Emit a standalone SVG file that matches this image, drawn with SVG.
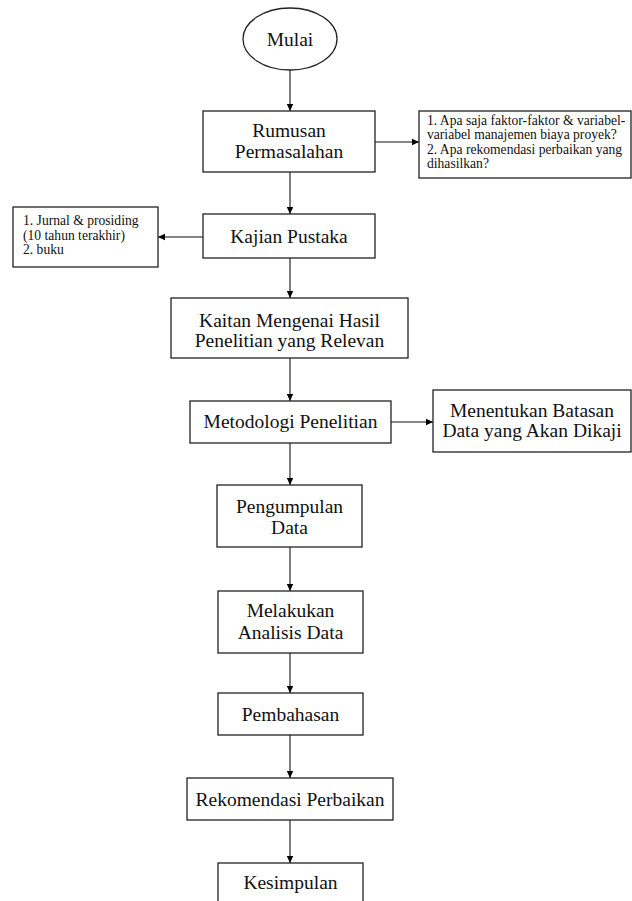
<svg xmlns="http://www.w3.org/2000/svg" width="632" height="901" viewBox="0 0 632 901">
<defs>
<marker id="ah" markerWidth="8" markerHeight="8" refX="7" refY="4" orient="auto" markerUnits="userSpaceOnUse">
<path d="M0,0.8 L7,4 L0,7.2 Z" fill="#000"/>
</marker>
<style>
.box{fill:#fff;stroke:#222;stroke-width:1.3}
.t{font-size:19.5px;fill:#111;text-anchor:middle}
.s{font-size:13.6px;fill:#111}
.c{fill:none;stroke:#111;stroke-width:1.1;marker-end:url(#ah)}
</style>
</defs>
<rect width="632" height="901" fill="#fff"/>
<g id="connectors">
<line class="c" x1="290" y1="70" x2="290" y2="111"/>
<line class="c" x1="290" y1="172" x2="290" y2="214"/>
<line class="c" x1="290" y1="258" x2="290" y2="298"/>
<line class="c" x1="290" y1="358" x2="290" y2="401"/>
<line class="c" x1="290" y1="443" x2="290" y2="485"/>
<line class="c" x1="290" y1="547" x2="290" y2="591"/>
<line class="c" x1="290" y1="653" x2="290" y2="693"/>
<line class="c" x1="290" y1="735" x2="290" y2="778"/>
<line class="c" x1="290" y1="820" x2="290" y2="863"/>
<line class="c" x1="375" y1="142" x2="419" y2="142"/>
<line class="c" x1="203" y1="237" x2="158" y2="237"/>
<line class="c" x1="391" y1="422" x2="433" y2="422"/>
</g>
<g font-family="Liberation Serif, DejaVu Serif, serif">
<g id="mulai">
<ellipse class="box" cx="290" cy="39" rx="47" ry="31"/>
<text class="t" x="290" y="45.5">Mulai</text>
</g>
<g id="rumusan">
<rect class="box" x="203" y="111" width="172" height="61"/>
<text class="t" x="289" y="137">Rumusan</text>
<text class="t" x="289" y="158">Permasalahan</text>
</g>
<g id="pertanyaan">
<rect class="box" x="419" y="111" width="212" height="67"/>
<text class="s" x="427" y="124.5">1. Apa saja faktor-faktor &amp; variabel-</text>
<text class="s" x="427" y="139">variabel manajemen biaya proyek?</text>
<text class="s" x="427" y="153.5">2. Apa rekomendasi perbaikan yang</text>
<text class="s" x="427" y="168">dihasilkan?</text>
</g>
<g id="kajian">
<rect class="box" x="203" y="214" width="172" height="44"/>
<text class="t" x="289" y="243">Kajian Pustaka</text>
</g>
<g id="sumber">
<rect class="box" x="13" y="207" width="145" height="60"/>
<text class="s" x="23" y="225">1. Jurnal &amp; prosiding</text>
<text class="s" x="23" y="240">(10 tahun terakhir)</text>
<text class="s" x="23" y="254">2. buku</text>
</g>
<g id="kaitan">
<rect class="box" x="171" y="298" width="237" height="60"/>
<text class="t" x="289.5" y="327">Kaitan Mengenai Hasil</text>
<text class="t" x="289.5" y="347">Penelitian yang Relevan</text>
</g>
<g id="metodologi">
<rect class="box" x="190" y="401" width="201" height="42"/>
<text class="t" x="290.5" y="428">Metodologi Penelitian</text>
</g>
<g id="batasan">
<rect class="box" x="433" y="390" width="198" height="62"/>
<text class="t" x="532" y="417">Menentukan Batasan</text>
<text class="t" x="532" y="437">Data yang Akan Dikaji</text>
</g>
<g id="pengumpulan">
<rect class="box" x="217" y="485" width="145" height="62"/>
<text class="t" x="289.5" y="513">Pengumpulan</text>
<text class="t" x="289.5" y="534">Data</text>
</g>
<g id="analisis">
<rect class="box" x="218" y="591" width="145" height="62"/>
<text class="t" x="290.5" y="617">Melakukan</text>
<text class="t" x="290.5" y="639">Analisis Data</text>
</g>
<g id="pembahasan">
<rect class="box" x="218" y="693" width="145" height="42"/>
<text class="t" x="290.5" y="721">Pembahasan</text>
</g>
<g id="rekomendasi">
<rect class="box" x="187" y="778" width="206" height="42"/>
<text class="t" x="290" y="806">Rekomendasi Perbaikan</text>
</g>
<g id="kesimpulan">
<rect class="box" x="218" y="863" width="145" height="50"/>
<text class="t" x="290.5" y="889">Kesimpulan</text>
</g>
</g>
</svg>
